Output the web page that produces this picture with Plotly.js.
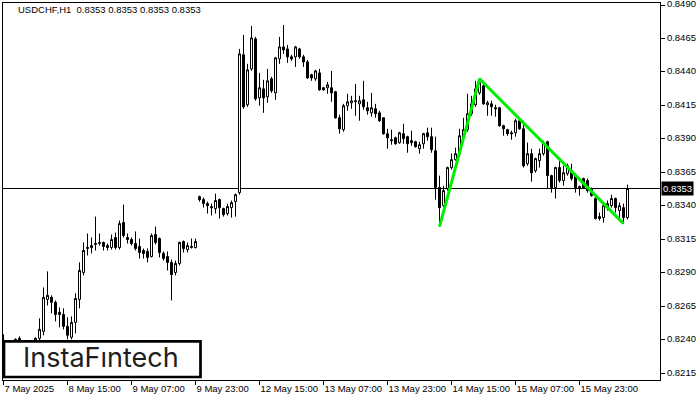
<!DOCTYPE html>
<html>
<head>
<meta charset="utf-8">
<script src="https://cdn.plot.ly/plotly-3.0.1.min.js"></script>
<style>html,body{margin:0;padding:0;background:#fff;}#chart{width:700px;height:400px;}</style>
</head>
<body>
<div id="chart"></div>
<script>
// USDCHF H1 candles (index 0 = 7 May 2025 23:00)
const open = [0.82396,0.82359,0.82337,0.82389,0.82411,0.82381,0.82359,0.82322,0.82389,0.82411,
0.82463,0.82702,0.82717,0.82680,0.82605,0.82590,0.82501,0.82419,0.82530,0.82702,
0.82903,0.83082,0.83089,0.83112,0.83119,0.83127,0.83104,0.83089,0.83164,0.83089,
0.83276,0.83164,0.83149,0.83119,0.83097,0.83067,0.83060,0.83022,0.83186,0.83156,
0.83045,0.83022,0.82978,0.82903,0.82970,0.83134,0.83074,0.83089,0.83089,0.83469,
0.83447,0.83417,0.83395,0.83380,0.83447,0.83380,0.83343,0.83387,0.83432,0.83499,
0.84528,0.84155,0.84423,0.84647,0.84207,0.84274,0.84215,0.84349,0.84244,0.84498,
0.84587,0.84572,0.84513,0.84513,0.84572,0.84513,0.84475,0.84379,0.84349,0.84393,
0.84282,0.84282,0.84282,0.84252,0.84058,0.83969,0.84148,0.84170,0.84177,0.84162,
0.84192,0.84133,0.84095,0.84125,0.84095,0.84058,0.83939,0.83894,0.83909,0.83872,
0.83939,0.83917,0.83887,0.83879,0.83827,0.83864,0.83946,0.83917,0.83812,0.83537,
0.83402,0.83529,0.83686,0.83745,0.83790,0.83909,0.83969,0.84088,0.84155,0.84244,
0.84297,0.84155,0.84162,0.84133,0.84133,0.83999,0.83969,0.83946,0.83946,0.84036,
0.83976,0.83715,0.83790,0.83663,0.83738,0.83790,0.83879,0.83626,0.83537,0.83686,
0.83589,0.83641,0.83663,0.83626,0.83544,0.83604,0.83589,0.83529,0.83455,0.83320,
0.83313,0.83387,0.83402,0.83455,0.83365,0.83387,0.83313];
const high = [0.82441,0.82381,0.82367,0.82411,0.82426,0.82389,0.82374,0.82359,0.82419,0.82560,
0.82791,0.82911,0.82732,0.82694,0.82642,0.82635,0.82568,0.82575,0.82747,0.82978,
0.83127,0.83194,0.83164,0.83320,0.83194,0.83134,0.83119,0.83186,0.83201,0.83291,
0.83410,0.83194,0.83164,0.83209,0.83156,0.83082,0.83082,0.83194,0.83246,0.83164,
0.83060,0.83060,0.83000,0.82992,0.83134,0.83142,0.83127,0.83156,0.83156,0.83477,
0.83462,0.83432,0.83417,0.83492,0.83455,0.83387,0.83417,0.83440,0.83492,0.84572,
0.84677,0.84461,0.84744,0.84662,0.84393,0.84341,0.84423,0.84364,0.84513,0.84662,
0.84751,0.84602,0.84528,0.84595,0.84580,0.84528,0.84490,0.84386,0.84416,0.84423,
0.84289,0.84326,0.84408,0.84259,0.84081,0.84162,0.84237,0.84222,0.84311,0.84222,
0.84334,0.84177,0.84244,0.84162,0.84110,0.84058,0.83976,0.83969,0.83917,0.83954,
0.84013,0.83924,0.83961,0.83887,0.83879,0.83946,0.83984,0.83984,0.83917,0.83626,
0.83551,0.83693,0.83790,0.83835,0.83976,0.84058,0.84237,0.84222,0.84334,0.84349,
0.84334,0.84185,0.84185,0.84155,0.84140,0.84006,0.83976,0.83961,0.84051,0.84051,
0.84036,0.83872,0.83827,0.83760,0.83827,0.83887,0.83887,0.83633,0.83693,0.83738,
0.83700,0.83715,0.83715,0.83641,0.83551,0.83611,0.83604,0.83537,0.83477,0.83350,
0.83417,0.83440,0.83484,0.83462,0.83425,0.83417,0.83559];
const low = [0.82307,0.82285,0.82277,0.82322,0.82337,0.82307,0.82277,0.82262,0.82322,0.82381,
0.82434,0.82657,0.82598,0.82538,0.82493,0.82478,0.82404,0.82404,0.82448,0.82635,
0.82881,0.83030,0.83045,0.83067,0.83104,0.83067,0.83067,0.83074,0.83074,0.83074,
0.83164,0.83119,0.83104,0.83067,0.83007,0.83007,0.82978,0.83015,0.83112,0.83015,
0.82992,0.82918,0.82694,0.82881,0.82955,0.83052,0.83052,0.83082,0.83082,0.83432,
0.83387,0.83343,0.83328,0.83343,0.83306,0.83320,0.83328,0.83313,0.83320,0.83484,
0.84125,0.84140,0.84408,0.84185,0.84148,0.84095,0.84170,0.84244,0.84192,0.84461,
0.84535,0.84468,0.84483,0.84438,0.84498,0.84438,0.84349,0.84334,0.84334,0.84259,
0.84259,0.84237,0.84177,0.84051,0.83939,0.83954,0.84110,0.84125,0.84073,0.84036,
0.84118,0.84081,0.84066,0.84058,0.84028,0.83931,0.83827,0.83857,0.83857,0.83864,
0.83864,0.83797,0.83849,0.83835,0.83790,0.83827,0.83887,0.83797,0.83447,0.83246,
0.83380,0.83514,0.83671,0.83738,0.83775,0.83894,0.83954,0.84073,0.84140,0.84230,
0.84155,0.84073,0.84073,0.84066,0.83991,0.83924,0.83924,0.83894,0.83917,0.83969,
0.83686,0.83700,0.83581,0.83648,0.83686,0.83775,0.83529,0.83499,0.83455,0.83574,
0.83551,0.83626,0.83589,0.83499,0.83477,0.83529,0.83499,0.83469,0.83298,0.83291,
0.83276,0.83365,0.83387,0.83350,0.83291,0.83268,0.83298];
const close = [0.82359,0.82337,0.82352,0.82404,0.82389,0.82359,0.82322,0.82381,0.82411,0.82478,
0.82717,0.82732,0.82680,0.82590,0.82590,0.82501,0.82434,0.82530,0.82709,0.82918,
0.83067,0.83089,0.83104,0.83119,0.83127,0.83097,0.83089,0.83149,0.83089,0.83268,
0.83179,0.83149,0.83119,0.83082,0.83052,0.83045,0.83015,0.83179,0.83127,0.83052,
0.83007,0.82978,0.82888,0.82970,0.83127,0.83082,0.83104,0.83097,0.83134,0.83447,
0.83417,0.83402,0.83387,0.83440,0.83387,0.83335,0.83395,0.83425,0.83484,0.84535,
0.84140,0.84416,0.84654,0.84200,0.84282,0.84207,0.84334,0.84259,0.84505,0.84587,
0.84565,0.84513,0.84498,0.84587,0.84513,0.84475,0.84356,0.84356,0.84408,0.84267,
0.84267,0.84304,0.84244,0.84058,0.83976,0.84148,0.84177,0.84185,0.84185,0.84185,
0.84140,0.84110,0.84133,0.84088,0.84036,0.83939,0.83909,0.83887,0.83864,0.83946,
0.83902,0.83864,0.83872,0.83842,0.83857,0.83939,0.83917,0.83820,0.83537,0.83387,
0.83514,0.83686,0.83745,0.83790,0.83924,0.83969,0.84088,0.84162,0.84274,0.84319,
0.84162,0.84170,0.84140,0.84125,0.83999,0.83976,0.83939,0.83939,0.84036,0.83976,
0.83700,0.83790,0.83648,0.83753,0.83790,0.83872,0.83626,0.83537,0.83686,0.83589,
0.83648,0.83700,0.83604,0.83537,0.83537,0.83537,0.83514,0.83477,0.83306,0.83306,
0.83402,0.83417,0.83455,0.83387,0.83402,0.83313,0.83530];

// time axis labels (bar index -> label)
const tickIdx = [0,16,32,48,64,80,96,112,128,144];
const tickText = ['7 May 2025','8 May 15:00','9 May 07:00','9 May 23:00','12 May 15:00','13 May 07:00','13 May 23:00','14 May 15:00','15 May 07:00','15 May 23:00'];

// pattern (double top) lines: bar index and price
const patternIdx = [109,119,155];
const patternPrice = [0.83246,0.84349,0.83268];

const lastPrice = 0.8353;
const symbol = 'USDCHF,H1';
const ohlcText = [0.8353,0.8353,0.8353,0.8353];

const xIdx = open.map((_, i) => i);

const traces = [
  {
    type: 'candlestick',
    x: xIdx, open: open, high: high, low: low, close: close,
    increasing: {line: {color: '#000', width: 1}, fillcolor: '#fff'},
    decreasing: {line: {color: '#000', width: 1}, fillcolor: '#000'},
    whiskerwidth: 0,
    hoverinfo: 'skip',
    showlegend: false
  },
  {
    type: 'scatter', mode: 'lines',
    x: patternIdx, y: patternPrice,
    line: {color: '#00ee00', width: 3},
    hoverinfo: 'skip', showlegend: false
  }
];

const F = 'Liberation Sans, Arial, sans-serif';
const layout = {
  width: 700, height: 400,
  margin: {l: 3, r: 40, t: 3, b: 20},
  paper_bgcolor: '#fff', plot_bgcolor: '#fff',
  showlegend: false,
  hovermode: false,
  boxgap: 0.5, boxgroupgap: 0,
  title: {
    text: symbol + '  ' + ohlcText.map(v => v.toFixed(4)).join(' '),
    x: 18/700, xanchor: 'left', xref: 'container',
    y: 1 - 6/400, yanchor: 'top', yref: 'container',
    font: {family: F, size: 9.5, color: '#000'}
  },
  xaxis: {
    range: [-0.125, 164.125],
    rangeslider: {visible: false},
    showgrid: false, zeroline: false,
    showline: true, linecolor: '#000', linewidth: 1, mirror: true,
    tickmode: 'array', tickvals: tickIdx, ticktext: tickText,
    ticks: 'outside', ticklen: 4, tickcolor: '#000', tickwidth: 1,
    tickangle: 0,
    ticklabelposition: 'outside right',
    ticklabeloverflow: 'allow',
    tickfont: {family: F, size: 9.5, color: '#000'},
    fixedrange: true
  },
  yaxis: {
    side: 'right',
    range: [0.82100, 0.84915],
    showgrid: false, zeroline: false,
    showline: true, linecolor: '#000', linewidth: 1, mirror: true,
    tick0: 0.8215, dtick: 0.0025, tickformat: '.4f',
    ticks: 'outside', ticklen: 4, tickcolor: '#000', tickwidth: 1,
    ticklabeloverflow: 'allow',
    ticklabelshift: -1,
    tickfont: {family: F, size: 9.5, color: '#000'},
    fixedrange: true
  },
  shapes: [
    {type: 'line', xref: 'paper', yref: 'y', x0: 0, x1: 1, y0: lastPrice, y1: lastPrice,
     line: {color: '#000', width: 1}, layer: 'below'},
    {type: 'rect', xref: 'paper', yref: 'paper', x0: 0.0015, x1: 0.3006, y0: 0.008, y1: 0.1027,
     line: {color: '#000', width: 2.7}, fillcolor: '#fff', layer: 'above'}
  ],
  annotations: [
    {xref: 'paper', yref: 'y', x: 1, y: lastPrice, xanchor: 'left', yanchor: 'middle',
     xshift: 1, text: lastPrice.toFixed(4), showarrow: false,
     bgcolor: '#000', borderpad: 1, font: {family: F, size: 9.5, color: '#fff'}},
    {xref: 'paper', yref: 'paper', x: 0.1499, y: 0.0584, xanchor: 'center', yanchor: 'middle',
     text: 'InstaF\u0131ntech', showarrow: false,
     font: {family: 'Inter, Open Sans, sans-serif', size: 27, color: '#1e1e1e', weight: 400}}
  ]
};

Plotly.newPlot('chart', traces, layout, {displayModeBar: false, staticPlot: true});
</script>
</body>
</html>
